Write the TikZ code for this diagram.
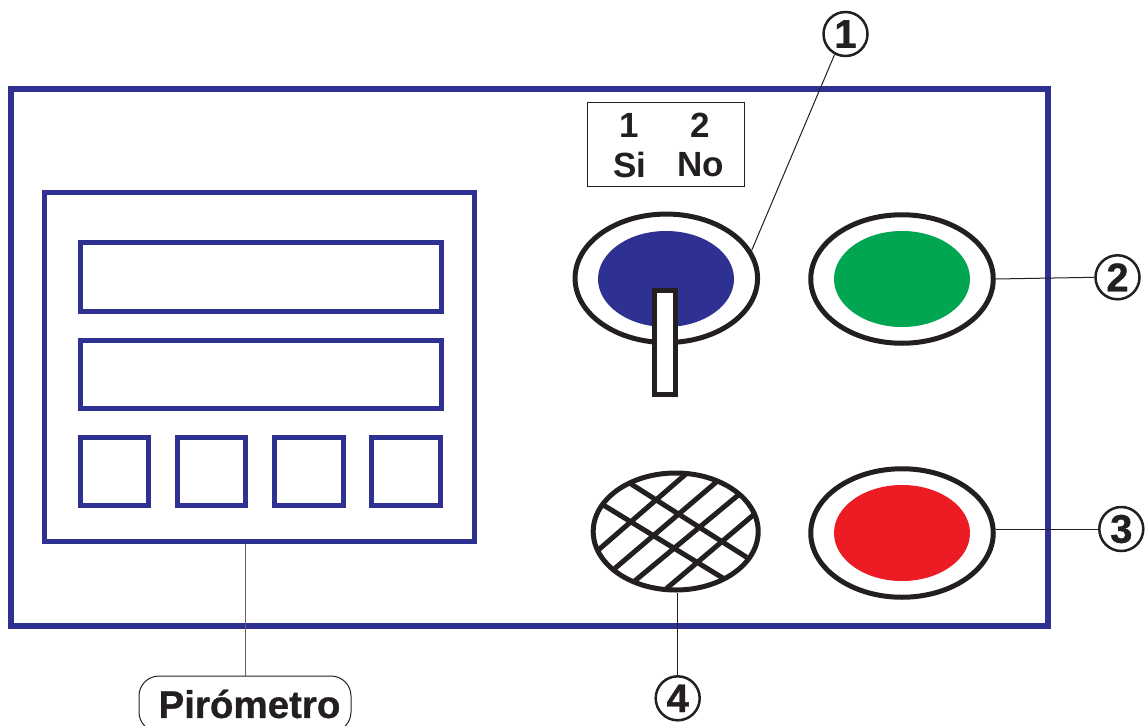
\documentclass[tikz,border=0pt]{standalone}
\usepackage{fontspec}
\setmainfont{Liberation Sans}
\newfontfamily\heavyfont[FakeBold=0.8]{Liberation Sans Bold}
\usetikzlibrary{shapes.geometric}
\definecolor{panelblue}{HTML}{2E3192}
\definecolor{lampgreen}{HTML}{00A651}
\definecolor{lampred}{HTML}{ED1C24}
\definecolor{ink}{HTML}{231F20}
\tikzset{
  x=1pt,y=-1pt,
  frameline/.style={draw=panelblue,line width=#1,rectangle,inner sep=0pt,fill=none},
  ring/.style={ellipse,draw=ink,line width=5pt,fill=white,minimum width=182.5pt,minimum height=128.5pt,inner sep=0pt},
  lamp/.style={ellipse,fill=#1,minimum width=136pt,minimum height=96pt,inner sep=0pt},
  callout/.style={circle,draw=ink,line width=2.5pt,fill=white,minimum size=44pt,inner sep=0pt,font=\fontsize{40}{40}\selectfont\heavyfont,text=ink},
  leader/.style={draw=ink,line width=1pt},
  legend/.style={font=\fontsize{35}{35}\selectfont\bfseries,text=ink,inner sep=0pt},
}
\begin{document}
\begin{tikzpicture}
\useasboundingbox (0,0) rectangle (1145,725);
% main panel
\node[frameline=5.5pt,minimum width=1037pt,minimum height=537pt] (panel) at (529.5,357.5) {};
% pyrometer
\node[frameline=5pt,minimum width=429.5pt,minimum height=349pt] (piro) at (259.7,367) {};
\node[frameline=5pt,minimum width=361.3pt,minimum height=68.4pt] (disp1) at (260.8,277) {};
\node[frameline=5pt,minimum width=361.3pt,minimum height=68.4pt] (disp2) at (260.8,374.3) {};
\node[frameline=5pt,minimum width=68.3pt,minimum height=68.3pt] (k1) at (114.3,471.7) {};
\node[frameline=5pt,minimum width=68.3pt,minimum height=68.3pt] (k2) at (211.7,471.7) {};
\node[frameline=5pt,minimum width=68.3pt,minimum height=68.3pt] (k3) at (309,471.7) {};
\node[frameline=5pt,minimum width=68.3pt,minimum height=68.3pt] (k4) at (406,471.7) {};
% legend box
\node[draw=ink,line width=1pt,minimum width=157pt,minimum height=84pt,inner sep=0pt] (leg) at (665.5,144.5) {};
\node[legend] (l1) at (629,125) {1};
\node[legend] (l2) at (700.5,125) {2};
\node[legend] (l3) at (630,165) {Si};
\node[legend] (l4) at (701,165) {No};
% selector
\node[ring] (sel) at (666.3,278.3) {};
\node[lamp=panelblue] (selc) at (666,279) {};
\node[draw=ink,line width=5pt,fill=white,minimum width=21pt,minimum height=103.5pt,inner sep=0pt] (lever) at (664.5,342.5) {};
% green, red
\node[ring] (gr) at (902,279) {};
\node[lamp=lampgreen] (grc) at (902,279) {};
\node[ring] (rd) at (902,533) {};
\node[lamp=lampred] (rdc) at (902,533) {};
% hatched lamp
\begin{scope}
\clip (675.7,531.5) ellipse [x radius=83,y radius=59];
\draw[ink,line width=5pt,line cap=square]
  (598.3,550) -- (686.7,473.3)
  (615,568.3) -- (716.7,481.7)
  (635,580.7) -- (738.3,495)
  (666.7,588.3) -- (753.3,515)
  (603.3,505) -- (723.3,578.3)
  (630,483.3) -- (746.7,557.3);
\end{scope}
\node[ellipse,draw=ink,line width=5pt,minimum width=165pt,minimum height=117pt,inner sep=0pt] (hatch) at (675.7,531.5) {};
% callouts
\node[callout] (c1) at (845.5,34) {1};
\node[callout] (c2) at (1117.5,277.3) {2};
\node[callout] (c3) at (1121.3,529) {3};
\node[callout] (c4) at (677.7,698.3) {4};
\node[draw=ink,line width=1pt,rectangle,rounded corners=20pt,fill=white,minimum width=212pt,minimum height=56pt,inner sep=0pt,font=\fontsize{38.5}{38.5}\selectfont\heavyfont,text=ink] (lbl) at (245,704) {\hspace{9pt}Pirómetro};
% leaders
\draw[leader] (sel.18) -- (c1.242);
\draw[leader] (gr.east) -- (c2.west);
\draw[leader] (rd.east |- c3.west) -- (c3.west);
\draw[leader] (hatch.south -| c4.north) -- (c4.north);
\draw[leader,draw=ink!70] (piro.south -| lbl.north) -- (lbl.north);
\end{tikzpicture}
\end{document}
